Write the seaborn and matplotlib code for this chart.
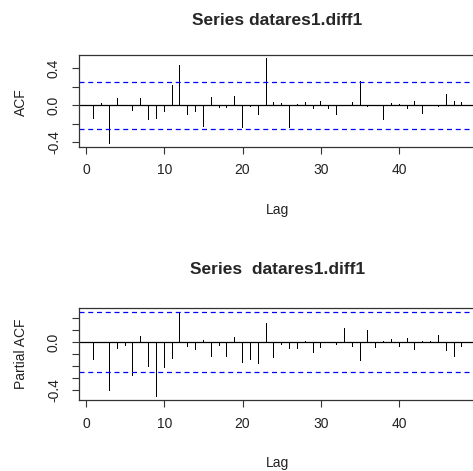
import numpy as np
import pandas as pd
import matplotlib
matplotlib.use("Agg")
import matplotlib.pyplot as plt
import seaborn as sns

# datos (acf sin lag 0, estilo TSA::acf)
lags = list(range(1, 49))
acf_vals = [-0.148, 0.02, -0.414, 0.083, 0.005, -0.058, 0.083, -0.159, -0.148, -0.076,
            0.223, 0.44, -0.108, -0.068, -0.238, 0.094, -0.029, -0.029, 0.10, -0.249,
            -0.014, -0.108, 0.508, 0.036, 0.025, -0.249, 0.014, 0.036, -0.036, 0.043,
            -0.036, -0.108, 0.004, 0.036, 0.267, -0.014, 0.004, -0.162, 0.022, 0.01,
            -0.036, 0.05, -0.097, 0.004, -0.014, 0.123, 0.05, 0.036]
pacf_vals = [-0.148, 0.003, -0.408, -0.056, -0.028, -0.279, 0.05, -0.21, -0.455, -0.218,
             -0.14, 0.243, -0.042, -0.061, 0.02, -0.12, -0.034, -0.126, 0.045, -0.173,
             -0.151, -0.179, 0.159, -0.129, -0.022, -0.059, -0.059, 0.011, -0.087, -0.05,
             0.003, -0.022, 0.12, -0.042, -0.156, 0.106, -0.045, 0.011, 0.031, -0.036,
             0.036, -0.064, 0.011, 0.011, 0.059, -0.073, -0.12, -0.042]
conf_lim = 0.253

acf_ticks = [-0.4, -0.2, 0.0, 0.2, 0.4]
acf_labels = ["-0.4", "", "0.0", "", "0.4"]
pacf_ticks = [-0.4, -0.3, -0.2, -0.1, 0.0, 0.1, 0.2]
pacf_labels = ["-0.4", "", "", "", "0.0", "", ""]
x_ticks = [0, 10, 20, 30, 40]

sns.set_style("ticks")
plt.rcParams["font.family"] = ["Liberation Sans", "DejaVu Sans"]

df = pd.DataFrame({"Lag": lags, "ACF": acf_vals, "PACF": pacf_vals})

fig = plt.figure(figsize=(4.73, 4.71), dpi=100)
ax1 = fig.add_axes([0.167, 0.6885, 0.8406, 0.1953])
ax2 = fig.add_axes([0.167, 0.1507, 0.8406, 0.1947])


def panel(ax, col, ylim, yticks, ylabels):
    sns.barplot(data=df, x="Lag", y=col, native_scale=True, width=0.13,
                color="black", linewidth=0, errorbar=None, ax=ax)
    ax.axhline(0, color="black", lw=0.9)
    ax.axhline(conf_lim, color="blue", lw=0.9, ls=(0, (4, 3)))
    ax.axhline(-conf_lim, color="blue", lw=0.9, ls=(0, (4, 3)))
    ax.set_xlim(-0.88, 49.88)
    ax.set_ylim(*ylim)
    ax.set_xticks(x_ticks)
    ax.set_xticklabels([str(t) for t in x_ticks], fontsize=10, color="#222222")
    ax.set_yticks(yticks)
    ax.set_yticklabels(ylabels, rotation=90, va="center", fontsize=10, color="#222222")
    ax.tick_params(axis="both", length=5, width=0.8, color="#333333")
    ax.tick_params(axis="x", pad=7)
    ax.tick_params(axis="y", pad=8)
    for s in ax.spines.values():
        s.set_visible(True)
        s.set_color("#333333")
        s.set_linewidth(0.9)
    ax.set_xlabel("")
    ax.set_ylabel("")


panel(ax1, "ACF", (-0.447, 0.547), acf_ticks, acf_labels)
panel(ax2, "PACF", (-0.484, 0.285), pacf_ticks, pacf_labels)

fig.text(0.586, 0.9575, "Series datares1.diff1", ha="center", va="center",
         fontsize=12.5, fontweight="bold")
fig.text(0.586, 0.4268, "Series  datares1.diff1", ha="center", va="center",
         fontsize=12.5, fontweight="bold")
fig.text(0.0444, 1 - 102 / 471, "ACF", rotation=90, ha="center", va="center",
         fontsize=10, color="#222222")
fig.text(0.0444, 1 - 354 / 471, "Partial ACF", rotation=90, ha="center", va="center",
         fontsize=10, color="#222222")
fig.text(0.586, 1 - 210 / 471, "Lag", ha="center", va="center", fontsize=10, color="#222222")
fig.text(0.586, 1 - 463 / 471, "Lag", ha="center", va="center", fontsize=10, color="#222222")

fig.savefig("out.png", dpi=100, facecolor="white")
